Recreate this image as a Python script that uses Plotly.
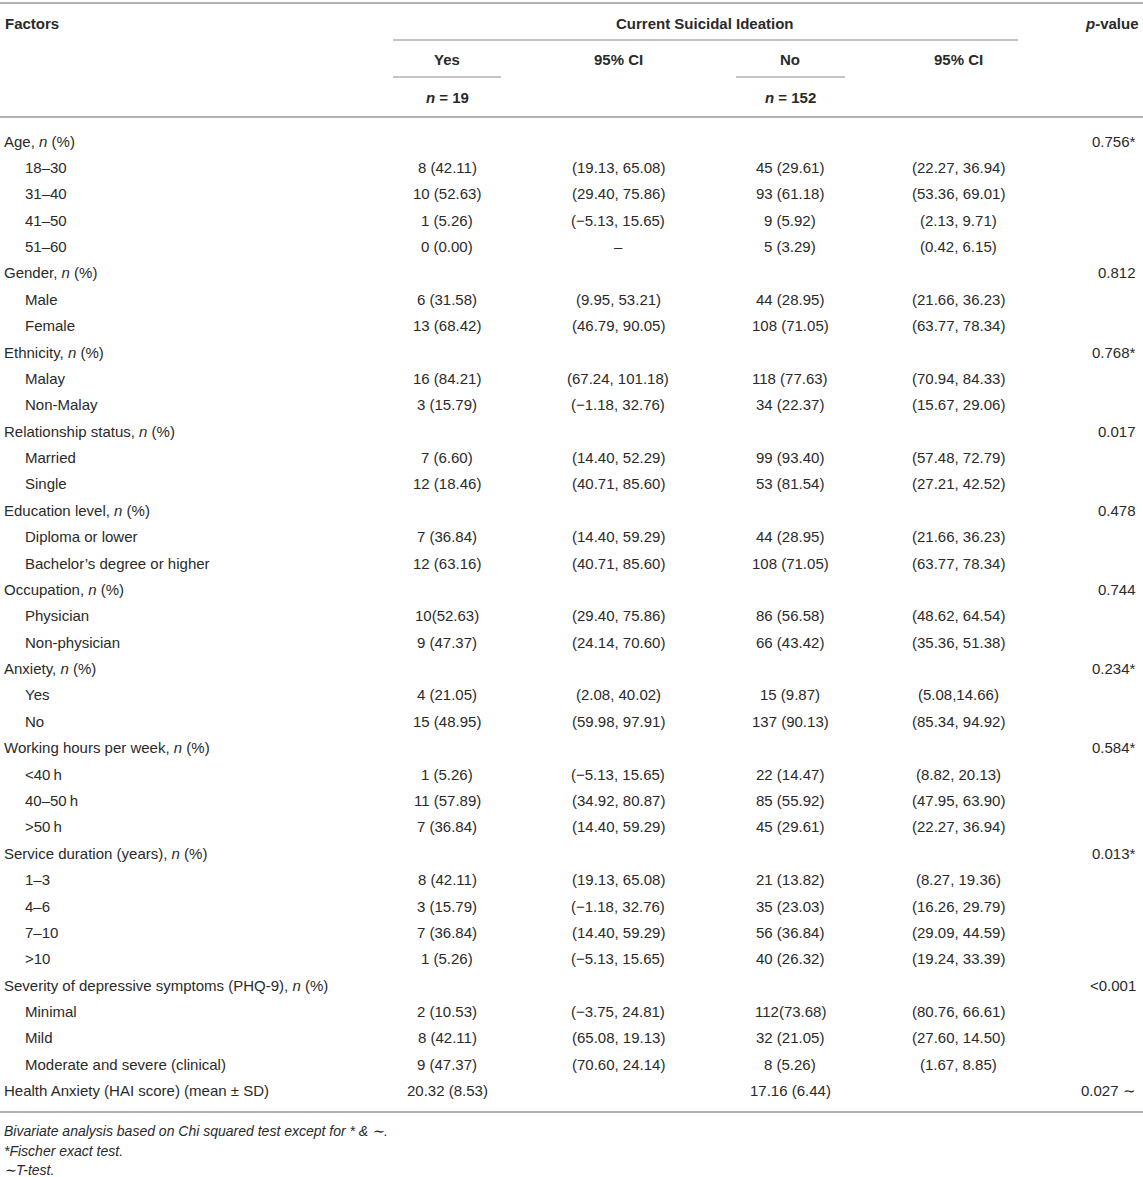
import plotly.graph_objects as go

# ---------------- table data ----------------
factors = [
    "Age, <i>n</i> (%)", "18–30", "31–40", "41–50", "51–60",
    "Gender, <i>n</i> (%)", "Male", "Female",
    "Ethnicity, <i>n</i> (%)", "Malay", "Non-Malay",
    "Relationship status, <i>n</i> (%)", "Married", "Single",
    "Education level, <i>n</i> (%)", "Diploma or lower", "Bachelor’s degree or higher",
    "Occupation, <i>n</i> (%)", "Physician", "Non-physician",
    "Anxiety, <i>n</i> (%)", "Yes", "No",
    "Working hours per week, <i>n</i> (%)", "&lt;40\u2009h", "40–50\u2009h", "&gt;50\u2009h",
    "Service duration (years), <i>n</i> (%)", "1–3", "4–6", "7–10", "&gt;10",
    "Severity of depressive symptoms (PHQ-9), <i>n</i> (%)", "Minimal", "Mild",
    "Moderate and severe (clinical)",
    "Health Anxiety (HAI score) (mean ± SD)",
]
indent = [0, 1, 1, 1, 1, 0, 1, 1, 0, 1, 1, 0, 1, 1, 0, 1, 1, 0, 1, 1, 0, 1, 1,
          0, 1, 1, 1, 0, 1, 1, 1, 1, 0, 1, 1, 1, 0]
yes_vals = [
    "", "8 (42.11)", "10 (52.63)", "1 (5.26)", "0 (0.00)",
    "", "6 (31.58)", "13 (68.42)",
    "", "16 (84.21)", "3 (15.79)",
    "", "7 (6.60)", "12 (18.46)",
    "", "7 (36.84)", "12 (63.16)",
    "", "10(52.63)", "9 (47.37)",
    "", "4 (21.05)", "15 (48.95)",
    "", "1 (5.26)", "11 (57.89)", "7 (36.84)",
    "", "8 (42.11)", "3 (15.79)", "7 (36.84)", "1 (5.26)",
    "", "2 (10.53)", "8 (42.11)", "9 (47.37)",
    "20.32 (8.53)",
]
yes_ci = [
    "", "(19.13, 65.08)", "(29.40, 75.86)", "(−5.13, 15.65)", "–",
    "", "(9.95, 53.21)", "(46.79, 90.05)",
    "", "(67.24, 101.18)", "(−1.18, 32.76)",
    "", "(14.40, 52.29)", "(40.71, 85.60)",
    "", "(14.40, 59.29)", "(40.71, 85.60)",
    "", "(29.40, 75.86)", "(24.14, 70.60)",
    "", "(2.08, 40.02)", "(59.98, 97.91)",
    "", "(−5.13, 15.65)", "(34.92, 80.87)", "(14.40, 59.29)",
    "", "(19.13, 65.08)", "(−1.18, 32.76)", "(14.40, 59.29)", "(−5.13, 15.65)",
    "", "(−3.75, 24.81)", "(65.08, 19.13)", "(70.60, 24.14)",
    "",
]
no_vals = [
    "", "45 (29.61)", "93 (61.18)", "9 (5.92)", "5 (3.29)",
    "", "44 (28.95)", "108 (71.05)",
    "", "118 (77.63)", "34 (22.37)",
    "", "99 (93.40)", "53 (81.54)",
    "", "44 (28.95)", "108 (71.05)",
    "", "86 (56.58)", "66 (43.42)",
    "", "15 (9.87)", "137 (90.13)",
    "", "22 (14.47)", "85 (55.92)", "45 (29.61)",
    "", "21 (13.82)", "35 (23.03)", "56 (36.84)", "40 (26.32)",
    "", "112(73.68)", "32 (21.05)", "8 (5.26)",
    "17.16 (6.44)",
]
no_ci = [
    "", "(22.27, 36.94)", "(53.36, 69.01)", "(2.13, 9.71)", "(0.42, 6.15)",
    "", "(21.66, 36.23)", "(63.77, 78.34)",
    "", "(70.94, 84.33)", "(15.67, 29.06)",
    "", "(57.48, 72.79)", "(27.21, 42.52)",
    "", "(21.66, 36.23)", "(63.77, 78.34)",
    "", "(48.62, 64.54)", "(35.36, 51.38)",
    "", "(5.08,14.66)", "(85.34, 94.92)",
    "", "(8.82, 20.13)", "(47.95, 63.90)", "(22.27, 36.94)",
    "", "(8.27, 19.36)", "(16.26, 29.79)", "(29.09, 44.59)", "(19.24, 33.39)",
    "", "(80.76, 66.61)", "(27.60, 14.50)", "(1.67, 8.85)",
    "",
]
p_values = [
    "0.756*", "", "", "", "",
    "0.812", "", "",
    "0.768*", "", "",
    "0.017", "", "",
    "0.478", "", "",
    "0.744", "", "",
    "0.234*", "", "",
    "0.584*", "", "", "",
    "0.013*", "", "", "", "",
    "&lt;0.001", "", "", "",
    "0.027 ∼",
]
group_headers = ["Yes", "95% CI", "No", "95% CI"]
group_sizes = ["<i>n</i> = 19", "", "<i>n</i> = 152", ""]
footnotes = [
    "Bivariate analysis based on Chi squared test except for * &amp; ∼.",
    "*Fischer exact test.",
    "∼T-test.",
]

# ---------------- layout constants ----------------
W, H = 1143, 1177
FONT = "Liberation Sans, Arial, Helvetica, sans-serif"
TXT = "#2a2a2a"
LINE = "#b0b0b0"
SIZE = 15
col_x = [447, 618, 790, 958]     # centres of the four data columns
row0, row_h = 141, 26.38          # first body row and row pitch

fig = go.Figure()
ann = []


def add(x, y, text, anchor="center", size=SIZE, bold=False):
    if bold:
        text = f"<b>{text}</b>"
    ann.append(dict(x=x, y=y, xref="x", yref="y", text=text, showarrow=False,
                    xanchor=anchor, yanchor="middle",
                    font=dict(family=FONT, size=size, color=TXT)))


# header
add(3, 23, "Factors", "left", bold=True)
add(705, 23, "Current Suicidal Ideation", bold=True)
add(1141, 23, "<i>p</i>-value", "right", bold=True)
for cx, h, n in zip(col_x, group_headers, group_sizes):
    add(cx, 59, h, bold=True)
    if n:
        add(cx, 97, n, bold=True)

# body
for i, f in enumerate(factors):
    y = row0 + i * row_h
    add(2 + 21 * indent[i], y, f, "left")
    for cx, col in zip(col_x, (yes_vals, yes_ci, no_vals, no_ci)):
        if col[i]:
            add(cx, y, col[i])
    if p_values[i]:
        add(1138, y, p_values[i], "right")

# footnotes
for j, t in enumerate(footnotes):
    add(2, 1131 + j * 19.5, f"<i>{t}</i>", "left", size=14)

# rules
shapes = [
    dict(type="line", x0=0, x1=W, y0=3, y1=3, line=dict(color=LINE, width=2)),
    dict(type="line", x0=393, x1=1018, y0=40, y1=40, line=dict(color=LINE, width=1.5)),
    dict(type="line", x0=393, x1=501, y0=77, y1=77, line=dict(color=LINE, width=1.5)),
    dict(type="line", x0=736, x1=845, y0=77, y1=77, line=dict(color=LINE, width=1.5)),
    dict(type="line", x0=0, x1=W, y0=117, y1=117, line=dict(color=LINE, width=2)),
    dict(type="line", x0=0, x1=W, y0=1112, y1=1112, line=dict(color=LINE, width=2)),
]
for s in shapes:
    s.update(xref="x", yref="y")

fig.update_layout(
    width=W, height=H,
    margin=dict(l=0, r=0, t=0, b=0),
    paper_bgcolor="white", plot_bgcolor="white",
    xaxis=dict(range=[0, W], visible=False, fixedrange=True),
    yaxis=dict(range=[H, 0], visible=False, fixedrange=True),
    annotations=ann, shapes=shapes, showlegend=False,
)

# drop the page's default body margin so the figure sits at the window's corner
fig.write_html(
    "out.html",
    config={"displayModeBar": False},
    post_script="document.body.style.margin='0';document.body.style.overflow='hidden';",
)
